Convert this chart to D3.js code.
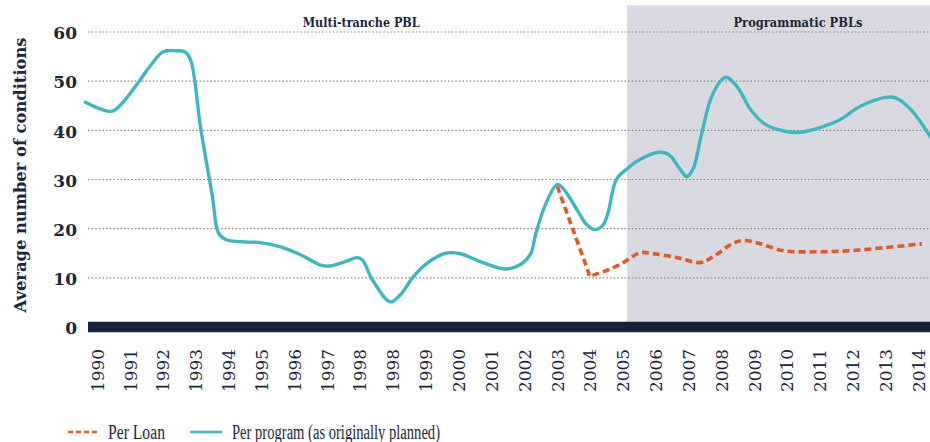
<!DOCTYPE html>
<html>
<head>
<meta charset="utf-8">
<script src="https://cdn.jsdelivr.net/npm/d3@7"></script>
<style>
  html, body { margin: 0; padding: 0; background: #ffffff; }
  svg { display: block; }
</style>
</head>
<body>
<svg id="chart" width="930" height="442"></svg>
<script>
// ---------------- data ----------------
const categories = ['1990','1991','1992','1993','1994','1995','1996','1997','1998','1998',
  '1999','2000','2001','2002','2003','2004','2005','2006','2007','2008','2009','2010',
  '2011','2012','2013','2014'];
const yTicks = [0, 10, 20, 30, 40, 50, 60];

// "Per program (as originally planned)" – position along category axis (index), value
const programPos = [-0.37, 0.1, 0.45, 0.75, 1.25, 1.65, 2.0, 2.4, 2.68, 2.85, 3.14, 3.5, 3.68,
  3.9, 4.5, 4.9, 5.57, 6.18, 6.79, 7.05, 7.55, 7.9, 8.07, 8.37, 8.92, 9.23, 9.59, 10.0, 10.6,
  11.05, 11.66, 12.42, 12.88, 13.19, 13.34, 13.64, 14.0, 14.2, 14.65, 14.9, 15.15, 15.4, 15.55,
  15.8, 16.15, 16.5, 17.05, 17.39, 17.75, 17.94, 18.15, 18.36, 18.67, 18.97, 19.15, 19.49,
  19.88, 20.34, 20.95, 21.4, 22.02, 22.62, 23.23, 24.0, 24.3, 24.76, 25.37];
const programValues = [45.7, 44.3, 43.9, 45.5, 49.8, 53.5, 56.0, 56.2, 55.9, 54.0, 40.5, 26.5, 19.2,
  17.8, 17.3, 17.2, 16.3, 14.7, 12.6, 12.4, 13.3, 14.1, 13.6, 9.6, 5.1, 6.6, 10.0, 12.8, 15.0,
  14.9, 13.3, 11.8, 12.7, 14.9, 18.8, 24.9, 29.0, 28.0, 23.3, 20.8, 19.8, 20.8, 23.3,
  30.0, 32.3, 34.0, 35.5, 35.1, 32.0, 30.6, 32.4, 38.2, 46.3, 50.0, 50.8, 48.8,
  44.3, 41.2, 39.8, 39.6, 40.6, 42.2, 44.9, 46.7, 46.6, 44.3, 38.6];

// "Per Loan"
const loanPos = [14.0, 14.5, 14.93, 15.0, 15.08, 15.5, 15.93, 16.53, 16.93, 17.66, 18.36, 18.7,
  19.37, 19.67, 20.1, 20.9, 21.9, 22.9, 23.9, 25.1];
const loanValues = [28.6, 19.4, 11.5, 10.2, 10.5, 11.5, 12.8, 15.1, 14.9, 14.1, 13.1, 14.1,
  17.1, 17.6, 17.1, 15.5, 15.3, 15.5, 16.1, 16.9];

const periodLabels = ['Multi-tranche PBL', 'Programmatic PBLs'];
const programmaticStart = 16.12;   // category position where programmatic period begins
const shadeTopValue = 65.4;
const seriesNames = ['Per Loan', 'Per program (as originally planned)'];
const yTitle = 'Average number of conditions';

// ---------------- layout ----------------
const W = 930, H = 442;
const plotLeft = 88, plotRight = 930;
const navy = '#16243b', textCol = '#1c2638';
const teal = '#3fb6bf', orange = '#df5a27', shade = '#d9d9e1';

const svg = d3.select('#chart');
const x = d3.scaleLinear().domain([0, categories.length - 1]).range([97.5, 918.5]);
const y = d3.scaleLinear().domain([0, 60]).range([327, 32]);

// shaded programmatic period
svg.append('rect')
  .attr('x', x(programmaticStart))
  .attr('y', y(shadeTopValue))
  .attr('width', plotRight - x(programmaticStart))
  .attr('height', y(0) - y(shadeTopValue))
  .attr('fill', shade);

// gridlines
svg.append('g').selectAll('line')
  .data(yTicks.filter(d => d > 0))
  .join('line')
  .attr('x1', plotLeft).attr('x2', plotRight)
  .attr('y1', d => y(d)).attr('y2', d => y(d))
  .attr('stroke', '#8c8c8c')
  .attr('stroke-width', 1.2)
  .attr('stroke-dasharray', '1.6,2');

// y axis labels
const yAxis = d3.axisLeft(y).tickValues(yTicks).tickSize(0).tickPadding(0);
const gy = svg.append('g').attr('transform', 'translate(77,0)').call(yAxis);
gy.select('.domain').remove();
gy.selectAll('text')
  .attr('font-family', 'DejaVu Serif')
  .attr('font-weight', 'bold')
  .attr('font-size', 17)
  .attr('fill', textCol)
  .attr('dy', '0.4em');

// y title
svg.append('text')
  .attr('transform', 'translate(26,' + 175 + ') rotate(-90)')
  .attr('text-anchor', 'middle')
  .attr('font-family', 'DejaVu Serif')
  .attr('font-weight', 'bold')
  .attr('font-size', 16)
  .attr('fill', textCol)
  .attr('textLength', 275)
  .attr('lengthAdjust', 'spacingAndGlyphs')
  .text(yTitle);

// x axis labels
const xAxis = d3.axisBottom(x)
  .tickValues(d3.range(categories.length))
  .tickFormat(i => categories[i])
  .tickSize(0);
const gx = svg.append('g').attr('transform', 'translate(0,349)').call(xAxis);
gx.select('.domain').remove();
gx.selectAll('text')
  .attr('font-family', 'DejaVu Serif')
  .attr('font-size', 16)
  .attr('fill', textCol)
  .attr('transform', 'rotate(-90)')
  .attr('text-anchor', 'end')
  .attr('x', 0)
  .attr('y', 0)
  .attr('dy', '0.36em')
  .attr('textLength', 43)
  .attr('lengthAdjust', 'spacingAndGlyphs');

// zero baseline bar
svg.append('line')
  .attr('x1', plotLeft).attr('x2', plotRight)
  .attr('y1', y(0)).attr('y2', y(0))
  .attr('stroke', navy)
  .attr('stroke-width', 10.5);

// period labels
const periodPos = [8.03, 21.33];
svg.append('g').selectAll('text')
  .data(periodLabels)
  .join('text')
  .attr('x', (d, i) => x(periodPos[i]))
  .attr('y', 27)
  .attr('text-anchor', 'middle')
  .attr('font-family', 'DejaVu Serif')
  .attr('font-weight', 'bold')
  .attr('font-size', 12.5)
  .attr('fill', textCol)
  .attr('textLength', (d, i) => [117, 129][i])
  .attr('lengthAdjust', 'spacingAndGlyphs')
  .text(d => d);

// lines
const line = d3.line()
  .x(d => x(d[0]))
  .y(d => y(d[1]))
  .curve(d3.curveCatmullRom.alpha(0.5));

svg.append('path')
  .datum(d3.zip(programPos, programValues))
  .attr('d', line)
  .attr('fill', 'none')
  .attr('stroke', teal)
  .attr('stroke-width', 3.4)
  .attr('stroke-linejoin', 'round')
  .attr('stroke-linecap', 'round');

svg.append('path')
  .datum(d3.zip(loanPos, loanValues))
  .attr('d', line)
  .attr('fill', 'none')
  .attr('stroke', orange)
  .attr('stroke-width', 3.6)
  .attr('stroke-dasharray', '7,4');

// legend
const legendY = 432;
const legend = svg.append('g');
legend.append('line')
  .attr('x1', 68).attr('x2', 100).attr('y1', legendY).attr('y2', legendY)
  .attr('stroke', orange).attr('stroke-width', 2.6).attr('stroke-dasharray', '5,3');
legend.append('line')
  .attr('x1', 190).attr('x2', 222).attr('y1', legendY).attr('y2', legendY)
  .attr('stroke', teal).attr('stroke-width', 2.6);
legend.selectAll('text.lg')
  .data(seriesNames)
  .join('text')
  .attr('class', 'lg')
  .attr('x', (d, i) => [108, 232][i])
  .attr('y', 439)
  .attr('font-family', 'Liberation Serif')
  .attr('font-size', 20)
  .attr('fill', textCol)
  .attr('textLength', (d, i) => [57, 208][i])
  .attr('lengthAdjust', 'spacingAndGlyphs')
  .text(d => d);
</script>
</body>
</html>
